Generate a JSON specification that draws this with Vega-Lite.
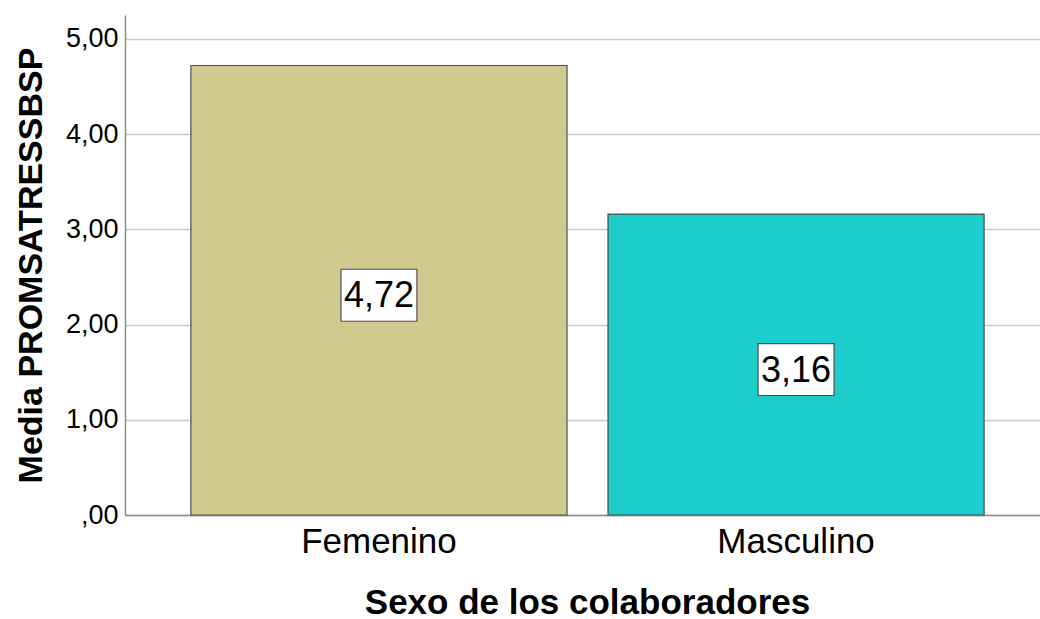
{
  "$schema": "https://vega.github.io/schema/vega-lite/v6.json",
  "autosize": "none",
  "width": 915,
  "height": 500,
  "padding": {"left": 125, "top": 15, "right": 0, "bottom": 104},
  "background": "white",
  "config": {
    "view": {"stroke": null},
    "font": "Liberation Sans"
  },
  "data": {
    "values": [
      {"sexo": "Femenino", "media": 4.72, "etiqueta": "4,72"},
      {"sexo": "Masculino", "media": 3.16, "etiqueta": "3,16"}
    ]
  },
  "encoding": {
    "x": {
      "field": "sexo",
      "type": "nominal",
      "sort": null,
      "scale": {"paddingInner": 0.0983, "paddingOuter": 0.158, "range": [0, 925]},
      "axis": {
        "title": "Sexo de los colaboradores",
        "titleFont": "Liberation Sans",
        "titleFontSize": 35,
        "titleFontWeight": "bold",
        "titleColor": "#000000",
        "titlePadding": 26,
        "titleX": 462,
        "labelFont": "Liberation Sans",
        "labelFontSize": 35,
        "labelColor": "#000000",
        "labelAngle": 0,
        "labelPadding": 9,
        "ticks": false,
        "domainColor": "#8c8c8c",
        "domainWidth": 1.5
      }
    }
  },
  "layer": [
    {
      "mark": {"type": "bar", "stroke": "#4d4d4d", "strokeWidth": 1.2},
      "encoding": {
        "y": {
          "field": "media",
          "type": "quantitative",
          "scale": {"domain": [0, 5.25], "nice": false},
          "axis": {
            "title": "Media PROMSATRESSBSP",
            "titleFont": "Liberation Sans",
            "titleFontSize": 34,
            "titleFontWeight": "bold",
            "titleColor": "#000000",
            "titlePadding": 17,
            "values": [0, 1, 2, 3, 4, 5],
            "labelExpr": "datum.value == 0 ? ',00' : replace(format(datum.value, '.2f'), '.', ',')",
            "labelFont": "Liberation Sans",
            "labelFontSize": 27,
            "labelColor": "#000000",
            "labelPadding": 7,
            "ticks": false,
            "grid": true,
            "gridColor": "#c8c8c8",
            "gridWidth": 1.5,
            "domainColor": "#8c8c8c",
            "domainWidth": 1.5
          }
        },
        "color": {
          "field": "sexo",
          "type": "nominal",
          "scale": {"domain": ["Femenino", "Masculino"], "range": ["#d0ca8e", "#1ccdcc"]},
          "legend": null
        }
      }
    },
    {
      "layer": [
        {
          "mark": {
            "type": "point",
            "shape": "M-1,-0.684L1,-0.684L1,0.684L-1,0.684Z",
            "size": 5776,
            "filled": true,
            "fill": "white",
            "stroke": "#4d4d4d",
            "strokeWidth": 1.2,
            "opacity": 1,
            "yOffset": 5
          },
          "encoding": {
            "y": {"field": "media", "type": "quantitative", "scale": {"domain": [0, 10.5], "nice": false}, "axis": null}
          }
        },
        {
          "mark": {"type": "text", "font": "Liberation Sans", "fontSize": 36, "color": "#000000", "baseline": "middle", "align": "center", "dy": 1, "yOffset": 5},
          "encoding": {
            "y": {"field": "media", "type": "quantitative", "scale": {"domain": [0, 10.5], "nice": false}, "axis": null},
            "text": {"field": "etiqueta"}
          }
        }
      ]
    }
  ],
  "resolve": {"scale": {"y": "independent"}}
}
